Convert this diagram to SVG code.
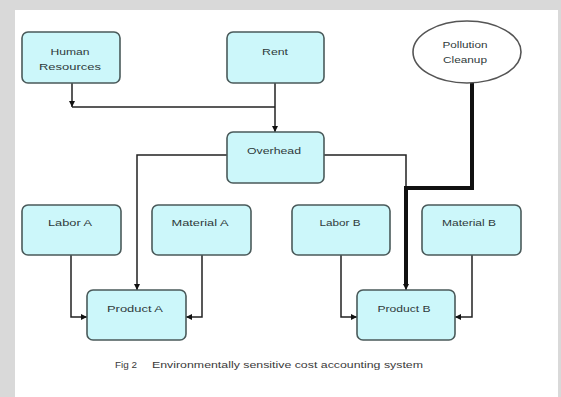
<svg xmlns="http://www.w3.org/2000/svg" width="561" height="397" viewBox="0 0 561 397">
<style>
.box{fill:#ccf7fa;stroke:#4a5a5a;stroke-width:1.6}
.ell{fill:#ffffff;stroke:#555;stroke-width:1.6}
.lbl{font-family:"Liberation Sans",Arial,sans-serif;font-size:9.5px;fill:#2f3a3a;text-anchor:middle}
.sm{font-size:8.5px}
.ln{fill:none;stroke:#222;stroke-width:1.5}
.thick{fill:none;stroke:#111;stroke-width:4}
.cap{font-family:"Liberation Sans",Arial,sans-serif;font-size:9px;fill:#3a3a3a}
</style>
<defs>
<marker id="ahs" viewBox="0 0 10 10" refX="10" refY="5" markerWidth="6" markerHeight="6" orient="auto" markerUnits="userSpaceOnUse">
<path d="M0,0 L10,5 L0,10 z" fill="#111"/>
</marker>
</defs>
<rect x="0" y="0" width="561" height="397" fill="#ffffff"/>
<rect x="0" y="0" width="561" height="10" fill="#d9d9d9"/>
<rect x="0" y="0" width="15" height="397" fill="#d9d9d9"/>
<rect x="558" y="0" width="3" height="397" fill="#d9d9d9"/>

<g id="connectors">
<path class="ln" d="M72,83 V107" marker-end="url(#ahs)"/>
<path class="ln" d="M72,107 H275"/>
<path class="ln" d="M275,83 V132" marker-end="url(#ahs)"/>
<path class="ln" d="M227,155 H137 V290" marker-end="url(#ahs)"/>
<path class="ln" d="M324,155 H406 V188"/>
<path class="thick" d="M472,83 V188 H406 V286"/>
<path class="ln" d="M406,284 V290" marker-end="url(#ahs)"/>
<path class="ln" d="M71,255 V317 H87" marker-end="url(#ahs)"/>
<path class="ln" d="M202,255 V317 H186" marker-end="url(#ahs)"/>
<path class="ln" d="M341,255 V317 H357" marker-end="url(#ahs)"/>
<path class="ln" d="M472,255 V317 H455" marker-end="url(#ahs)"/>
</g>

<g id="human"><rect class="box" x="22" y="32" width="98" height="51" rx="6"/><text class="lbl" x="70" y="55" textLength="39" lengthAdjust="spacingAndGlyphs">Human</text><text class="lbl" x="70" y="70" textLength="62" lengthAdjust="spacingAndGlyphs">Resources</text></g>
<g id="rent"><rect class="box" x="227" y="32" width="97" height="51" rx="6"/><text class="lbl" x="275" y="55" textLength="26" lengthAdjust="spacingAndGlyphs">Rent</text></g>
<g id="pollution"><ellipse class="ell" cx="467" cy="52" rx="54" ry="31"/><text class="lbl sm" x="465" y="48" textLength="45" lengthAdjust="spacingAndGlyphs">Pollution</text><text class="lbl sm" x="465" y="63" textLength="44" lengthAdjust="spacingAndGlyphs">Cleanup</text></g>
<g id="overhead"><rect class="box" x="227" y="132" width="97" height="51" rx="6"/><text class="lbl" x="274" y="154" textLength="54" lengthAdjust="spacingAndGlyphs">Overhead</text></g>
<g id="laborA"><rect class="box" x="22" y="205" width="99" height="50" rx="6"/><text class="lbl" x="70" y="226" textLength="44" lengthAdjust="spacingAndGlyphs">Labor A</text></g>
<g id="materialA"><rect class="box" x="152" y="205" width="99" height="50" rx="6"/><text class="lbl" x="200" y="226" textLength="57" lengthAdjust="spacingAndGlyphs">Material A</text></g>
<g id="laborB"><rect class="box" x="292" y="205" width="98" height="50" rx="6"/><text class="lbl" x="340" y="226" textLength="41" lengthAdjust="spacingAndGlyphs">Labor B</text></g>
<g id="materialB"><rect class="box" x="422" y="205" width="99" height="50" rx="6"/><text class="lbl" x="469" y="226" textLength="54" lengthAdjust="spacingAndGlyphs">Material B</text></g>
<g id="productA"><rect class="box" x="87" y="290" width="99" height="50" rx="6"/><text class="lbl" x="135" y="312" textLength="56" lengthAdjust="spacingAndGlyphs">Product A</text></g>
<g id="productB"><rect class="box" x="357" y="290" width="98" height="50" rx="6"/><text class="lbl" x="404" y="312" textLength="53" lengthAdjust="spacingAndGlyphs">Product B</text></g>

<text class="cap" x="115" y="368" textLength="22" lengthAdjust="spacingAndGlyphs">Fig 2</text>
<text class="cap" x="152" y="368" textLength="271" lengthAdjust="spacingAndGlyphs">Environmentally sensitive cost accounting system</text>
</svg>
